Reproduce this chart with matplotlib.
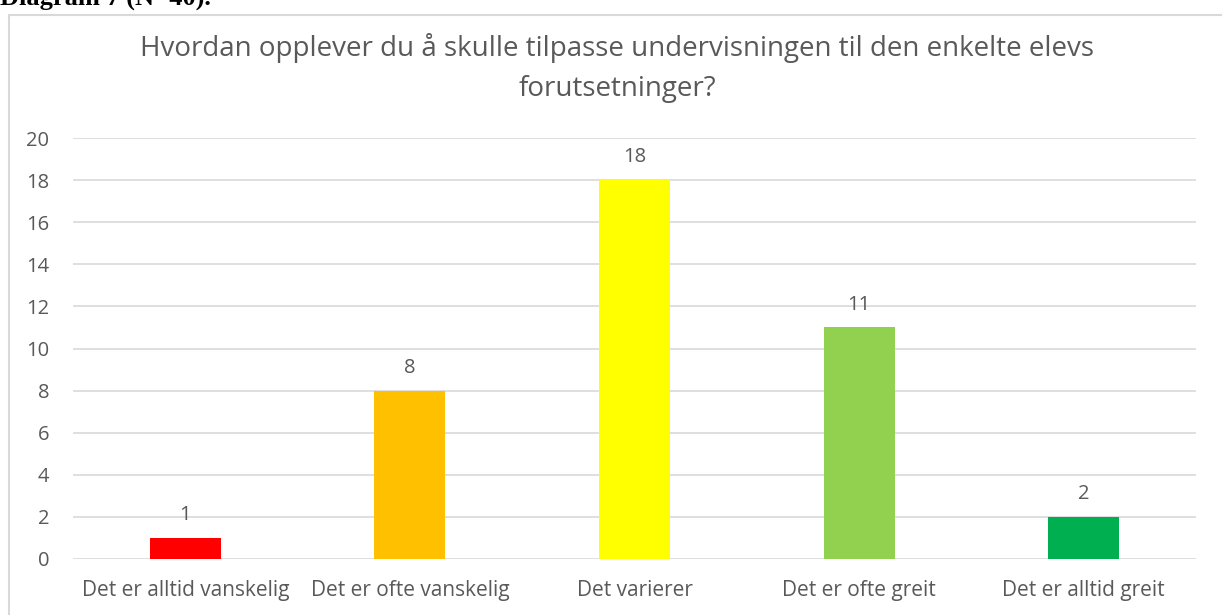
import matplotlib.pyplot as plt
from matplotlib.patches import Rectangle

kategorier = ["Det er alltid vanskelig", "Det er ofte vanskelig", "Det varierer",
              "Det er ofte greit", "Det er alltid greit"]
antall = [1, 8, 18, 11, 2]
farger = ["#FF0000", "#FFC000", "#FFFF00", "#92D050", "#00B050"]
yticks = list(range(0, 21, 2))

tekstfarge = "#595959"
plt.rcParams['font.family'] = ['Open Sans', 'DejaVu Sans']

fig = plt.figure(figsize=(12.22, 6.15), dpi=100)

# ramme rundt diagrammet (kuttet i høyre/nedre kant)
fig.patches.append(Rectangle((9 / 1222, -0.1), 1.2, 1 - 15 / 615 + 0.1,
                             transform=fig.transFigure, fill=False,
                             edgecolor="#D9D9D9", linewidth=1.5))

# avkuttet overskrift fra dokumentet
fig.text(0.0, 1 - 5 / 615, "Diagram 7 (N=40).", family="Liberation Serif",
         fontweight="bold", fontsize=19, va="baseline", ha="left", color="black")

ax = fig.add_axes([73 / 1222, 1 - 559 / 615, (1196 - 73) / 1222, (559 - 138) / 615])
x = range(len(kategorier))
bars = ax.bar(x, antall, width=0.316, color=farger, zorder=3)

for i, v in zip(x, antall):
    ax.text(i, v + 0.6, str(v), ha="center", va="bottom", fontsize=14.5, color=tekstfarge)

ax.set_ylim(0, 20)
ax.set_xlim(-0.5, len(kategorier) - 0.5)
ax.set_yticks(yticks)
ax.set_xticks(list(x))
ax.set_xticklabels(kategorier)
ax.tick_params(axis="both", length=0, colors=tekstfarge)
ax.tick_params(axis="y", pad=17, labelsize=14.5)
ax.tick_params(axis="x", pad=15, labelsize=15)
ax.grid(axis="y", color="#D9D9D9", linewidth=1.2, zorder=0)
for s in ax.spines.values():
    s.set_visible(False)

fig.text(617 / 1222, 1 - 68 / 615,
         "Hvordan opplever du å skulle tilpasse undervisningen til den enkelte elevs\nforutsetninger?",
         ha="center", va="center", fontsize=20, color=tekstfarge, linespacing=1.55)

fig.savefig("out.png", dpi=100)
